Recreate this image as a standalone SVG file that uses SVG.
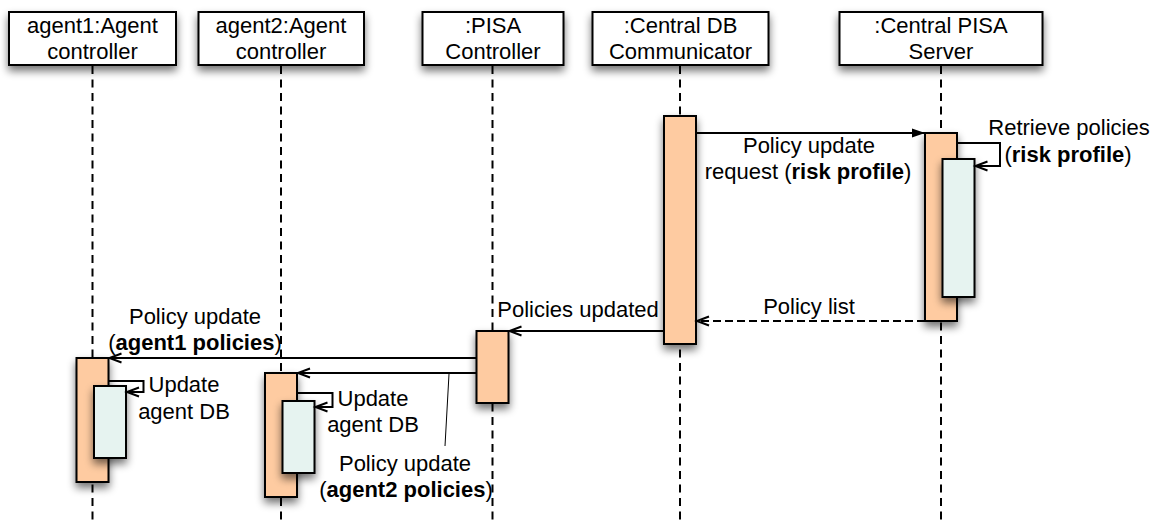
<svg xmlns="http://www.w3.org/2000/svg" width="1166" height="525" viewBox="0 0 1166 525">
  <style>
    text { font-family: "Liberation Sans", Arial, Helvetica, sans-serif; font-size: 22px; fill: #000; }
    .c { text-anchor: middle; }
    .b { font-weight: bold; }
    .head { fill: #fff; stroke: #000; stroke-width: 2; }
    .life { fill: none; stroke: #000; stroke-width: 2; stroke-dasharray: 8 5.5; }
    .act { fill: #FECBA1; stroke: #000; stroke-width: 2; }
    .sub { fill: #E6F3F0; stroke: #000; stroke-width: 2; }
    .msg { fill: none; stroke: #000; stroke-width: 2; }
    .ret { stroke-dasharray: 8 4; }
    .lead { fill: none; stroke: #000; stroke-width: 1; }
  </style>
  <defs>
    <filter id="shadow" x="-60%" y="-30%" width="220%" height="160%">
      <feGaussianBlur in="SourceAlpha" stdDeviation="4"/>
      <feOffset dx="0" dy="5" result="blur"/>
      <feComponentTransfer><feFuncA type="linear" slope="0.55"/></feComponentTransfer>
      <feMerge><feMergeNode/><feMergeNode in="SourceGraphic"/></feMerge>
    </filter>
    <marker id="solidHead" markerUnits="userSpaceOnUse" markerWidth="14" markerHeight="10" refX="13" refY="4.5" orient="auto" overflow="visible">
      <path d="M0,0 L13,4.5 L0,9 Z" fill="#000"/>
    </marker>
    <marker id="openHead" markerUnits="userSpaceOnUse" markerWidth="14" markerHeight="10" refX="12" refY="4.5" orient="auto" overflow="visible">
      <path d="M0,0 L12,4.5 L0,9" fill="none" stroke="#000" stroke-width="2"/>
    </marker>
  </defs>

  <!-- agent1 -->
  <g id="agent1">
    <line class="life" x1="92.5" y1="66" x2="92.5" y2="522"/>
    <rect class="head" x="9" y="12" width="167" height="53" filter="url(#shadow)"/>
    <text class="c" x="92.5" y="33">agent1:Agent</text>
    <text class="c" x="92.5" y="59">controller</text>
    <rect class="act" x="76.5" y="358" width="32" height="124" filter="url(#shadow)"/>
    <rect class="sub" x="94" y="386" width="32" height="72" filter="url(#shadow)"/>
  </g>

  <!-- agent2 -->
  <g id="agent2">
    <line class="life" x1="281" y1="66" x2="281" y2="522"/>
    <rect class="head" x="198.5" y="12" width="165.5" height="53" filter="url(#shadow)"/>
    <text class="c" x="281" y="33">agent2:Agent</text>
    <text class="c" x="281" y="59">controller</text>
    <rect class="act" x="265" y="373" width="32" height="124" filter="url(#shadow)"/>
    <rect class="sub" x="282.5" y="401" width="32" height="72" filter="url(#shadow)"/>
  </g>

  <!-- PISA controller -->
  <g id="pisaController">
    <line class="life" x1="492.5" y1="66" x2="492.5" y2="522"/>
    <rect class="head" x="422.5" y="12" width="141" height="53" filter="url(#shadow)"/>
    <text class="c" x="493" y="33">:PISA</text>
    <text class="c" x="493" y="59">Controller</text>
    <rect class="act" x="476.5" y="331" width="32" height="72" filter="url(#shadow)"/>
  </g>

  <!-- central DB communicator -->
  <g id="centralDB">
    <line class="life" x1="680" y1="66" x2="680" y2="522"/>
    <rect class="head" x="592.5" y="12" width="176" height="53" filter="url(#shadow)"/>
    <text class="c" x="680.5" y="33">:Central DB</text>
    <text class="c" x="680.5" y="59">Communicator</text>
    <rect class="act" x="664" y="116" width="32" height="228" filter="url(#shadow)"/>
  </g>

  <!-- central PISA server -->
  <g id="centralPISA">
    <line class="life" x1="941" y1="66" x2="941" y2="522"/>
    <rect class="head" x="839.5" y="12" width="203" height="53" filter="url(#shadow)"/>
    <text class="c" x="941" y="33">:Central PISA</text>
    <text class="c" x="941" y="59">Server</text>
    <rect class="act" x="925" y="133" width="32" height="188" filter="url(#shadow)"/>
    <rect class="sub" x="942.5" y="159" width="32" height="138" filter="url(#shadow)"/>
  </g>

  <!-- messages -->
  <g id="connectors">
    <line class="msg" x1="696" y1="133" x2="925" y2="133" marker-end="url(#solidHead)"/>
    <path class="msg" d="M957,143 H1000 V166 H975.5" marker-end="url(#openHead)"/>
    <line class="msg ret" x1="925" y1="321" x2="697" y2="321" marker-end="url(#openHead)"/>
    <line class="msg" x1="664" y1="331" x2="509.5" y2="331" marker-end="url(#openHead)"/>
    <line class="msg" x1="476.5" y1="358" x2="109.5" y2="358" marker-end="url(#openHead)"/>
    <line class="msg" x1="476.5" y1="373" x2="298" y2="373" marker-end="url(#openHead)"/>
    <path class="msg" d="M108.5,381 H143.5 V392 H127" marker-end="url(#openHead)"/>
    <path class="msg" d="M297,393 H332.5 V407 H315.5" marker-end="url(#openHead)"/>
    <line class="lead" x1="449" y1="374" x2="445" y2="446"/>
  </g>

  <!-- message labels -->
  <g id="labels">
    <text class="c" x="809" y="153">Policy update</text>
    <text class="c" x="808" y="179">request (<tspan class="b">risk profile</tspan>)</text>
    <text class="c" x="1069" y="135">Retrieve policies</text>
    <text class="c" x="1068" y="162">(<tspan class="b">risk profile</tspan>)</text>
    <text class="c" x="809" y="314">Policy list</text>
    <text class="c" x="578" y="317">Policies updated</text>
    <text class="c" x="195" y="324">Policy update</text>
    <text class="c" x="195" y="350">(<tspan class="b">agent1 policies</tspan>)</text>
    <text class="c" x="184" y="392">Update</text>
    <text class="c" x="184" y="419">agent DB</text>
    <text class="c" x="373" y="406">Update</text>
    <text class="c" x="373" y="432">agent DB</text>
    <text class="c" x="405" y="471">Policy update</text>
    <text class="c" x="406" y="497">(<tspan class="b">agent2 policies</tspan>)</text>
  </g>
</svg>
